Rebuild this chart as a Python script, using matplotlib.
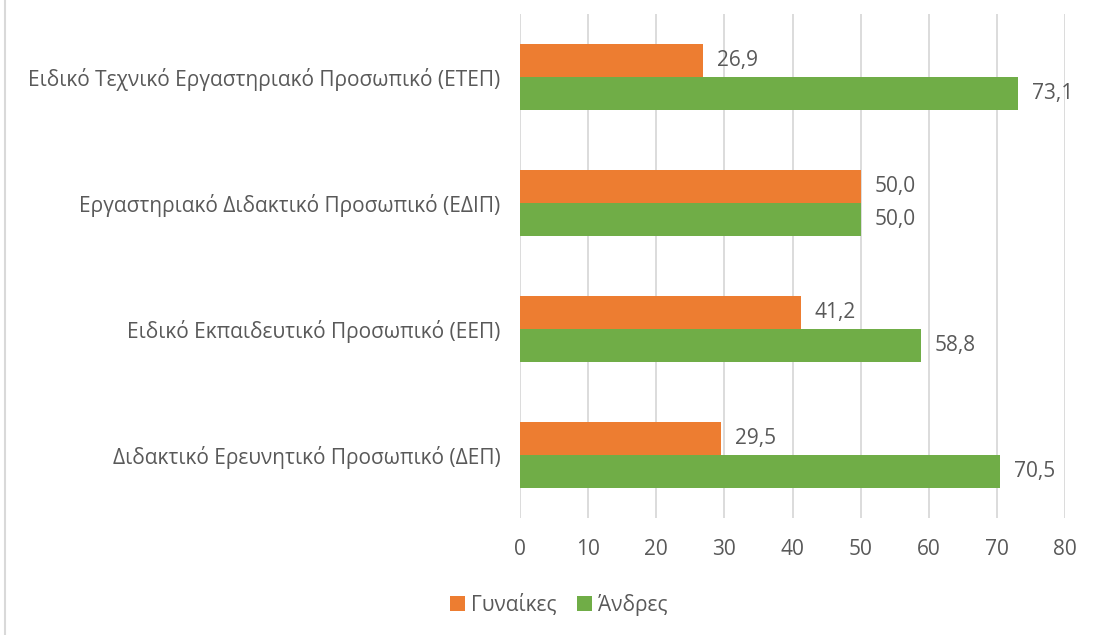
import matplotlib
matplotlib.use("Agg")
import matplotlib.pyplot as plt
import numpy as np

plt.rcParams['font.family'] = ['Open Sans', 'DejaVu Sans']

# Datos del gráfico
categorias = ["Διδακτικό Ερευνητικό Προσωπικό (ΔΕΠ)",
              "Ειδικό Εκπαιδευτικό Προσωπικό (ΕΕΠ)",
              "Εργαστηριακό Διδακτικό Προσωπικό (ΕΔΙΠ)",
              "Ειδικό Τεχνικό Εργαστηριακό Προσωπικό (ΕΤΕΠ)"]
gynaikes = [29.5, 41.2, 50.0, 26.9]
andres = [70.5, 58.8, 50.0, 73.1]
series = ["Γυναίκες", "Άνδρες"]

gris = '#595959'
fs = 15
fig = plt.figure(figsize=(10.96, 6.35), dpi=100)
ax = fig.add_axes([0.4745, 0.184, 0.4972, 0.794])

y = np.arange(len(categorias))
h = 0.262
b1 = ax.barh(y + h / 2, gynaikes, height=h, color='#ED7D31', label=series[0], zorder=3)
b2 = ax.barh(y - h / 2, andres, height=h, color='#70AD47', label=series[1], zorder=3)

for barras, vals in ((b1, gynaikes), (b2, andres)):
    for rect, v in zip(barras, vals):
        ax.annotate(f"{v:.1f}".replace('.', ','),
                    (rect.get_width(), rect.get_y() + rect.get_height() / 2),
                    xytext=(10, 0), textcoords='offset points',
                    va='center', ha='left', fontsize=fs, color=gris)

ax.set_xlim(0, 80)
ax.set_ylim(-0.5, len(categorias) - 0.5)
ax.set_xticks(range(0, 81, 10))
ax.set_yticks(y)
ax.set_yticklabels(categorias)
ax.tick_params(axis='both', length=0, labelsize=fs, labelcolor=gris)
ax.tick_params(axis='x', pad=15)
ax.tick_params(axis='y', pad=14)
ax.grid(axis='x', color='#D9D9D9', linewidth=1.3, zorder=0)
for s in ax.spines.values():
    s.set_visible(False)

fig.legend(handles=[b1, b2], loc='center', bbox_to_anchor=(0.51, 0.048), ncol=2,
           frameon=False, fontsize=fs, labelcolor=gris, handlelength=0.7,
           handleheight=0.7, handletextpad=0.3, columnspacing=1.0)

# borde izquierdo del gráfico
fig.add_artist(plt.Line2D([0.005, 0.005], [0, 1], color='#D9D9D9', linewidth=1.5))

fig.savefig('out.png', dpi=100)
